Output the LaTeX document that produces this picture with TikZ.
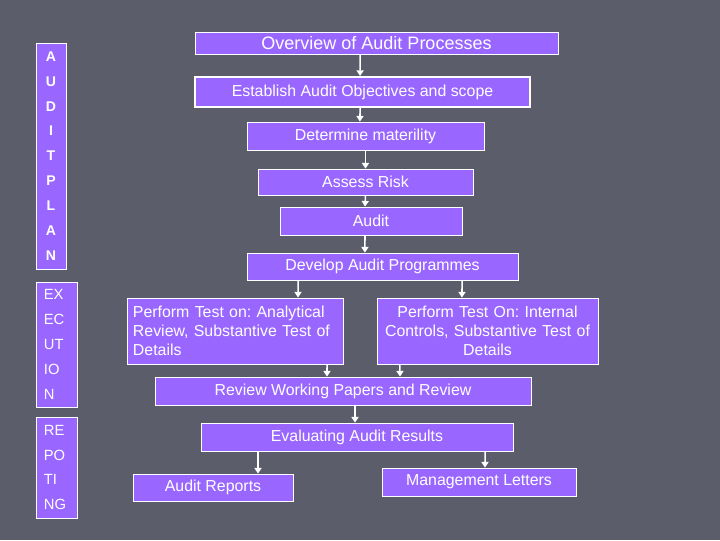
\documentclass[tikz,border=0pt]{standalone}
\usepackage{fontspec}
\setmainfont{Liberation Sans}
\usetikzlibrary{arrows.meta}
\definecolor{slidebg}{RGB}{91,93,107}
\definecolor{boxfill}{RGB}{153,102,255}
\frenchspacing

\begin{document}
\begin{tikzpicture}[x=0.025cm, y=-0.025cm]
    % Define styles
    \tikzstyle{process} = [rectangle, draw=white, line width=0.6pt, fill=boxfill, text=white, text centered, inner sep=2pt, font=\fontsize{11.3}{13.3}\selectfont]
    \tikzstyle{sidebar} = [rectangle, draw=white, line width=0.6pt, fill=boxfill, text=white, inner sep=0pt]
    \tikzstyle{arrow} = [white, line width=1.1pt, -{Triangle[width=5pt,length=4pt]}]

    % Background
    \fill[slidebg] (0,0) rectangle (720,540);

    % Side bars
    \node[sidebar, minimum width=0.75cm, minimum height=5.65cm, align=center,
          font=\bfseries\fontsize{10}{17.7}\selectfont] (plan) at (51,156)
        {A\\U\\D\\I\\T\\P\\L\\A\\N};
    \node[sidebar, minimum width=1.025cm, minimum height=3.125cm, text width=0.63cm, align=left,
          font=\fontsize{10.5}{17.7}\selectfont] (execution) at (56.5,344.5)
        {EX\\EC\\UT\\IO\\N};
    \node[sidebar, minimum width=1.025cm, minimum height=2.525cm, text width=0.63cm, align=left,
          font=\fontsize{10.5}{17.7}\selectfont] (reporting) at (56.5,467.5)
        {RE\\PO\\TI\\NG};

    % Nodes
    \node[process, minimum width=9.075cm, minimum height=0.55cm, font=\fontsize{12.8}{14}\selectfont] (overview) at (376.5,43) {Overview of Audit Processes};
    \node[process, line width=1.4pt, minimum width=8.375cm, minimum height=0.75cm] (objectives) at (362.5,92) {Establish Audit Objectives and scope};
    \node[process, minimum width=5.925cm, minimum height=0.7cm] (materiality) at (365.5,136) {Determine materility};
    \node[process, minimum width=5.375cm, minimum height=0.65cm] (risk) at (365.5,182) {Assess Risk};
    \node[process, minimum width=4.55cm, minimum height=0.7cm] (audit) at (371,221) {Audit};
    \node[process, minimum width=6.775cm, minimum height=0.675cm] (programme) at (382.5,266.5) {Develop Audit Programmes};
    \node[process, minimum width=5.4cm, minimum height=1.65cm, text width=5.1cm, align=left] (analytical) at (235,331)
        {Perform Test on: Analytical\\Review, Substantive Test of\\Details};
    \node[process, minimum width=5.525cm, minimum height=1.65cm, text width=5.35cm, align=center] (internal) at (487.5,331)
        {Perform Test On: Internal\\Controls, Substantive Test of\\Details};
    \node[process, minimum width=9.4cm, minimum height=0.7cm] (papers) at (343,391) {Review Working Papers and Review};
    \node[process, minimum width=7.8cm, minimum height=0.7cm] (results) at (357,437) {Evaluating Audit Results};
    \node[process, minimum width=4cm, minimum height=0.675cm] (reports) at (213,487.5) {Audit Reports};
    \node[process, minimum width=4.85cm, minimum height=0.7cm] (letters) at (479,482) {Management Letters};

    % Arrows
    \draw[arrow] ([xshift=-0.41cm]overview.south) -- ([xshift=-0.06cm]objectives.north);
    \draw[arrow] ([xshift=-0.06cm]objectives.south) -- ([xshift=-0.14cm]materiality.north);
    \draw[arrow] (materiality.south) -- (risk.north);
    \draw[arrow] (risk.south) -- ([xshift=-0.15cm]audit.north);
    \draw[arrow] ([xshift=-0.15cm]audit.south) -- ([xshift=-0.44cm]programme.north);
    \draw[arrow] ([xshift=-2.11cm]programme.south) -- ([xshift=1.575cm]analytical.north);
    \draw[arrow] ([xshift=1.99cm]programme.south) -- ([xshift=-0.64cm]internal.north);
    \draw[arrow] ([xshift=2.3cm]analytical.south) -- ([xshift=-0.4cm]papers.north);
    \draw[arrow] ([xshift=-2.19cm]internal.south) -- ([xshift=1.425cm]papers.north);
    \draw[arrow] ([xshift=0.3cm]papers.south) -- ([xshift=-0.05cm]results.north);
    \draw[arrow] ([xshift=-2.475cm]results.south) -- ([xshift=1.125cm]reports.north);
    \draw[arrow] ([xshift=3.2cm]results.south) -- ([xshift=0.15cm]letters.north);
\end{tikzpicture}
\end{document}
